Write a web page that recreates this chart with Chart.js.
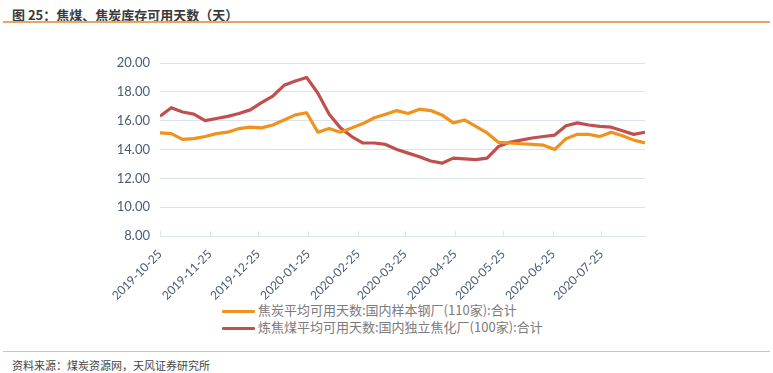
<!DOCTYPE html>
<html lang="zh">
<head>
<meta charset="UTF-8">
<title>焦煤、焦炭库存可用天数</title>
<script src="https://cdn.jsdelivr.net/npm/chart.js"></script>
<style>
    body {
        margin: 0;
        width: 773px;
        height: 373px;
        background: #fff;
        position: relative;
        overflow: hidden;
        font-family: "Noto Sans CJK SC", "Noto Sans", sans-serif;
    }
    .title {
        position: absolute;
        left: 12px;
        top: 5px;
        font-size: 13px;
        font-weight: bold;
        color: #3a3a3a;
    }
    .rule {
        position: absolute;
        left: 3px;
        width: 767px;
        height: 2px;
    }
    .chart-box {
        position: absolute;
        left: 90px;
        top: 40px;
        width: 570px;
        height: 260px;
    }
    .legend {
        position: absolute;
        left: 222px;
        top: 301px;
        font-size: 13px;
        color: #7b7b7b;
        line-height: 17px;
    }
    .legend div { white-space: nowrap; }
    .legend span.swatch {
        display: inline-block;
        width: 33px;
        height: 3px;
        vertical-align: middle;
        margin-right: 3px;
        border-radius: 1px;
    }
    .source {
        position: absolute;
        left: 12px;
        top: 357px;
        font-size: 11px;
        color: #444;
    }
</style>
</head>
<body>

<div class="title">图 25：焦煤、焦炭库存可用天数（天）</div>
<div class="rule" style="top:21px;background:#e9a465;"></div>

<div class="chart-box"><canvas id="stockChart"></canvas></div>
<div class="legend" id="legend"></div>

<div class="rule" style="top:351px;height:1px;background:#eebf92;"></div>
<div class="source">资料来源：煤炭资源网，天风证券研究所</div>

<script>
    // weekly observations
    const dates = [
        '2019-10-25', '2019-11-01', '2019-11-08', '2019-11-15', '2019-11-22', '2019-11-29',
        '2019-12-06', '2019-12-13', '2019-12-20', '2019-12-27', '2020-01-03', '2020-01-10',
        '2020-01-17', '2020-01-24', '2020-01-31', '2020-02-07', '2020-02-14', '2020-02-21',
        '2020-02-28', '2020-03-06', '2020-03-13', '2020-03-20', '2020-03-27', '2020-04-03',
        '2020-04-10', '2020-04-17', '2020-04-24', '2020-05-01', '2020-05-08', '2020-05-15',
        '2020-05-22', '2020-05-29', '2020-06-05', '2020-06-12', '2020-06-19', '2020-06-26',
        '2020-07-03', '2020-07-10', '2020-07-17', '2020-07-24', '2020-07-31', '2020-08-07',
        '2020-08-14', '2020-08-21'
    ];

    const cokeDays = [
        15.15, 15.1, 14.7, 14.75, 14.9, 15.1, 15.2, 15.45, 15.55, 15.5, 15.7, 16.05,
        16.4, 16.55, 15.2, 15.45, 15.2, 15.5, 15.8, 16.2, 16.45, 16.7, 16.5, 16.8,
        16.7, 16.4, 15.85, 16.05, 15.6, 15.15, 14.5, 14.45, 14.4, 14.35, 14.3, 14.0,
        14.75, 15.05, 15.05, 14.9, 15.2, 14.95, 14.65, 14.45
    ];

    const cokingCoalDays = [
        16.3, 16.9, 16.6, 16.45, 16.0, 16.15, 16.3, 16.5, 16.75, 17.25, 17.7, 18.45,
        18.75, 19.0, 17.9, 16.45, 15.5, 14.9, 14.45, 14.45, 14.35, 14.0, 13.75, 13.5,
        13.2, 13.05, 13.4, 13.35, 13.3, 13.4, 14.2, 14.5, 14.65, 14.8, 14.9, 15.0,
        15.65, 15.85, 15.7, 15.6, 15.55, 15.3, 15.05, 15.2
    ];

    const seriesNames = [
        '焦炭平均可用天数:国内样本钢厂(110家):合计',
        '炼焦煤平均可用天数:国内独立焦化厂(100家):合计'
    ];
    const seriesColors = ['#f0921e', '#c0504d'];

    const tickDates = [
        '2019-10-25', '2019-11-25', '2019-12-25', '2020-01-25', '2020-02-25',
        '2020-03-25', '2020-04-25', '2020-05-25', '2020-06-25', '2020-07-25'
    ];

    // days since first observation, used for the x scale
    const t0 = Date.parse(dates[0]);
    const dayOf = s => Math.round((Date.parse(s) - t0) / 86400000);
    const toPoints = vals => dates.map((d, i) => ({ x: dayOf(d), y: vals[i] }));

    const gridColor = '#dbe3ee';
    const tickColor = '#4a5b74';

    // small inward tick marks on the category axis, like the original
    const innerTicks = {
        id: 'innerTicks',
        afterDraw(chart) {
            const xs = chart.scales.x;
            const ctx = chart.ctx;
            const y = chart.chartArea.bottom;
            ctx.save();
            ctx.strokeStyle = gridColor;
            ctx.lineWidth = 1;
            tickDates.forEach(d => {
                const px = Math.round(xs.getPixelForValue(dayOf(d))) + 0.5;
                ctx.beginPath();
                ctx.moveTo(px, y);
                ctx.lineTo(px, y - 5);
                ctx.stroke();
            });
            ctx.restore();
        }
    };

    const ctx = document.getElementById('stockChart').getContext('2d');
    const chart = new Chart(ctx, {
        type: 'line',
        data: {
            datasets: [
                {
                    label: seriesNames[0],
                    data: toPoints(cokeDays),
                    borderColor: seriesColors[0],
                    backgroundColor: seriesColors[0],
                    borderWidth: 3.2,
                    pointRadius: 0,
                    tension: 0,
                    borderJoinStyle: 'round'
                },
                {
                    label: seriesNames[1],
                    data: toPoints(cokingCoalDays),
                    borderColor: seriesColors[1],
                    backgroundColor: seriesColors[1],
                    borderWidth: 3.2,
                    pointRadius: 0,
                    tension: 0,
                    borderJoinStyle: 'round'
                }
            ]
        },
        options: {
            responsive: true,
            maintainAspectRatio: false,
            animation: false,
            layout: { padding: { top: 23, right: 15, bottom: 0, left: 0 } },
            plugins: {
                legend: { display: false },
                tooltip: { enabled: false }
            },
            scales: {
                x: {
                    type: 'linear',
                    min: 0,
                    max: dayOf(dates[dates.length - 1]),
                    afterBuildTicks: scale => {
                        scale.ticks = tickDates.map(d => ({ value: dayOf(d) }));
                    },
                    afterFit: scale => { scale.height = 64; },
                    grid: { display: false, drawTicks: false },
                    border: { display: true, color: gridColor, width: 1 },
                    ticks: {
                        autoSkip: false,
                        minRotation: 45,
                        maxRotation: 45,
                        padding: 11,
                        color: tickColor,
                        font: { family: 'Lato', size: 12 },
                        callback: v => tickDates.find(d => dayOf(d) === v) || ''
                    }
                },
                y: {
                    min: 8,
                    max: 20,
                    afterFit: scale => { scale.width = 70; },
                    border: { display: false },
                    grid: { color: gridColor, lineWidth: 1, drawTicks: false },
                    ticks: {
                        stepSize: 2,
                        padding: 10,
                        color: tickColor,
                        font: { family: 'Lato', size: 13 },
                        callback: v => v.toFixed(2)
                    }
                }
            }
        },
        plugins: [innerTicks]
    });

    // legend stacked on two lines, left aligned
    const legend = document.getElementById('legend');
    seriesNames.forEach((name, i) => {
        const row = document.createElement('div');
        const sw = document.createElement('span');
        sw.className = 'swatch';
        sw.style.background = seriesColors[i];
        row.appendChild(sw);
        row.appendChild(document.createTextNode(name));
        legend.appendChild(row);
    });
</script>

</body>
</html>
